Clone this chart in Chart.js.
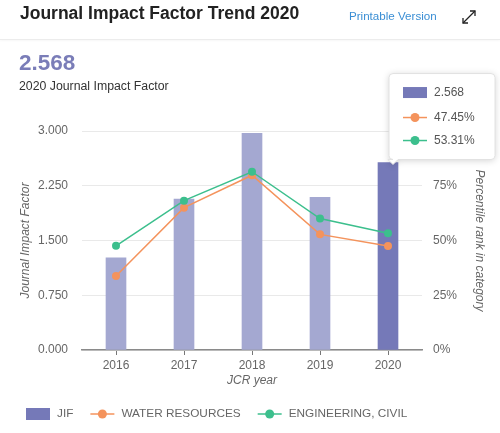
<!DOCTYPE html>
<html>
<head>
<meta charset="utf-8">
<script src="https://cdn.jsdelivr.net/npm/chart.js@4.4.1/dist/chart.umd.min.js"></script>
<style>
  html, body { margin: 0; padding: 0; background: #fff; }
  body { width: 500px; height: 433px; position: relative; overflow: hidden; font-family: "Liberation Sans", Arial, sans-serif; }
  #c { position: absolute; left: 0; top: 0; }
  .t { position: absolute; white-space: nowrap; line-height: 1; }
  #title { left: 20px; top: 4.8px; font-size: 17.5px; font-weight: bold; color: #222; }
  #print { left: 349px; top: 10.2px; font-size: 11.6px; color: #3a8ed4; }
  #icon { position: absolute; left: 461px; top: 9px; }
  #sep { position: absolute; left: 0; top: 39px; width: 500px; height: 1px; background: #ececec; box-shadow: 0 1px 2px rgba(0,0,0,0.05); }
  #big { left: 19px; top: 52px; font-size: 22.5px; font-weight: bold; color: #7a7db8; }
  #sub { left: 19px; top: 80px; font-size: 12.3px; color: #333; }
</style>
</head>
<body>
<canvas id="c" width="500" height="433"></canvas>
<div class="t" id="title">Journal Impact Factor Trend 2020</div>
<div class="t" id="print">Printable Version</div>
<svg id="icon" width="16" height="16" viewBox="0 0 16 16">
  <g stroke="#222" stroke-width="1.3" fill="none">
    <line x1="2" y1="14" x2="14" y2="2"/>
    <polyline points="9,2 14,2 14,7"/>
    <polyline points="2,9 2,14 7,14"/>
  </g>
</svg>
<div id="sep"></div>
<div class="t" id="big">2.568</div>
<div class="t" id="sub">2020 Journal Impact Factor</div>
<script>
const years = ['2016', '2017', '2018', '2019', '2020'];
const jifValues = [1.264, 2.068, 2.968, 2.09, 2.568];
const waterResources = [33.8, 65.0, 79.8, 52.8, 47.45];
const engineeringCivil = [47.6, 68.2, 81.4, 60.0, 53.31];
const leftTicks = [0, 0.75, 1.5, 2.25, 3.0];
const rightTicks = [0, 25, 50, 75, 100];
const seriesLabels = ['JIF', 'WATER RESOURCES', 'ENGINEERING, CIVIL'];

const BAR_LIGHT = '#a4a8d1';
const BAR_DARK = '#7579b8';
const ORANGE = '#f4935c';
const GREEN = '#3cbf8d';
const FONT = '"Liberation Sans", Arial, sans-serif';

const barColors = jifValues.map((v, i) => i === jifValues.length - 1 ? BAR_DARK : BAR_LIGHT);

function drawLineMarker(ctx, x, y, color) {
  ctx.save();
  ctx.strokeStyle = color;
  ctx.lineWidth = 1.5;
  ctx.beginPath();
  ctx.moveTo(x, y);
  ctx.lineTo(x + 24, y);
  ctx.stroke();
  ctx.fillStyle = color;
  ctx.beginPath();
  ctx.arc(x + 12, y, 4.5, 0, Math.PI * 2);
  ctx.fill();
  ctx.restore();
}

const overlayPlugin = {
  id: 'overlay',
  afterDraw(chart) {
    const ctx = chart.ctx;
    // ---- Legend ----
    ctx.save();
    ctx.font = '11.8px ' + FONT;
    ctx.textBaseline = 'middle';
    ctx.fillStyle = '#666';
    let x = 26;
    const ly = 414;
    seriesLabels.forEach((lab, i) => {
      if (i === 0) {
        ctx.fillStyle = BAR_DARK;
        ctx.fillRect(x, ly - 6, 24, 12);
      } else {
        drawLineMarker(ctx, x, ly, i === 1 ? ORANGE : GREEN);
      }
      ctx.fillStyle = '#666';
      ctx.fillText(lab, x + 31, ly);
      x += 31 + ctx.measureText(lab).width + 17;
    });
    ctx.restore();

    // ---- Tooltip for last category ----
    const idx = years.length - 1;
    const bar = chart.getDatasetMeta(0).data[idx];
    const tipX = bar.x + 5, tipY = bar.y + 2;
    const left = bar.x + 1, bottom = tipY - 5;
    const w = 106, h = 86;
    const top = bottom - h;
    ctx.save();
    ctx.shadowColor = 'rgba(0,0,0,0.18)';
    ctx.shadowBlur = 7;
    ctx.shadowOffsetY = 1;
    ctx.fillStyle = '#fff';
    ctx.beginPath();
    const r = 4;
    ctx.moveTo(left + r, top);
    ctx.lineTo(left + w - r, top);
    ctx.quadraticCurveTo(left + w, top, left + w, top + r);
    ctx.lineTo(left + w, bottom - r);
    ctx.quadraticCurveTo(left + w, bottom, left + w - r, bottom);
    ctx.lineTo(tipX + 5, bottom);
    ctx.lineTo(tipX, tipY);
    ctx.lineTo(tipX - 5, bottom);
    ctx.lineTo(left + r, bottom);
    ctx.quadraticCurveTo(left, bottom, left, bottom - r);
    ctx.lineTo(left, top + r);
    ctx.quadraticCurveTo(left, top, left + r, top);
    ctx.closePath();
    ctx.fill();
    ctx.shadowColor = 'transparent';
    ctx.strokeStyle = '#e2e2e2';
    ctx.lineWidth = 1;
    ctx.stroke();
    ctx.restore();

    ctx.save();
    ctx.font = '12px ' + FONT;
    ctx.textBaseline = 'middle';
    const rows = [
      { y: top + 19, text: jifValues[idx].toFixed(3), kind: 'bar' },
      { y: top + 44, text: waterResources[idx].toFixed(2) + '%', kind: ORANGE },
      { y: top + 67, text: engineeringCivil[idx].toFixed(2) + '%', kind: GREEN }
    ];
    rows.forEach(row => {
      if (row.kind === 'bar') {
        ctx.fillStyle = BAR_DARK;
        ctx.fillRect(left + 14, row.y - 5.5, 24, 11);
      } else {
        drawLineMarker(ctx, left + 14, row.y, row.kind);
      }
      ctx.fillStyle = '#555';
      ctx.fillText(row.text, left + 45, row.y);
    });
    ctx.restore();
  }
};

new Chart(document.getElementById('c'), {
  data: {
    labels: years,
    datasets: [
      {
        type: 'bar',
        label: seriesLabels[0],
        data: jifValues,
        backgroundColor: barColors,
        yAxisID: 'y',
        barThickness: 20,
        order: 3
      },
      {
        type: 'line',
        label: seriesLabels[1],
        data: waterResources,
        borderColor: ORANGE,
        backgroundColor: ORANGE,
        borderWidth: 1.5,
        pointRadius: 4,
        pointBorderWidth: 0,
        pointBackgroundColor: ORANGE,
        tension: 0,
        yAxisID: 'y1',
        order: 2
      },
      {
        type: 'line',
        label: seriesLabels[2],
        data: engineeringCivil,
        borderColor: GREEN,
        backgroundColor: GREEN,
        borderWidth: 1.5,
        pointRadius: 4,
        pointBorderWidth: 0,
        pointBackgroundColor: GREEN,
        tension: 0,
        yAxisID: 'y1',
        order: 1
      }
    ]
  },
  options: {
    responsive: false,
    animation: false,
    devicePixelRatio: 1,
    layout: { padding: { left: 18, right: 13, top: 131, bottom: 45 } },
    plugins: {
      legend: { display: false },
      tooltip: { enabled: false },
      title: { display: false }
    },
    scales: {
      x: {
        offset: true,
        grid: { display: true, drawOnChartArea: false, drawTicks: true, tickLength: 5, tickColor: '#777', offset: false },
        border: { display: true, color: '#8a8a8a', width: 1.5 },
        ticks: { color: '#666', font: { family: FONT, size: 12 }, padding: 3 },
        title: { display: true, text: 'JCR year', color: '#666', font: { family: FONT, size: 12, style: 'italic' }, padding: 0 },
        afterFit(scale) { scale.height = 38; }
      },
      y: {
        position: 'left',
        min: 0,
        max: 3,
        afterBuildTicks(scale) { scale.ticks = leftTicks.map(v => ({ value: v })); },
        grid: { color: '#e9e9e9', lineWidth: 1, drawTicks: false },
        border: { display: false },
        ticks: { color: '#666', font: { family: FONT, size: 12 }, padding: 14, callback: v => Number(v).toFixed(3) },
        title: { display: true, text: 'Journal Impact Factor', color: '#666', font: { family: FONT, size: 12, style: 'italic' }, padding: 0 },
        afterFit(scale) { scale.width = 64; }
      },
      y1: {
        position: 'right',
        min: 0,
        max: 100,
        afterBuildTicks(scale) { scale.ticks = rightTicks.map(v => ({ value: v })); },
        grid: { drawOnChartArea: false, drawTicks: false },
        border: { display: false },
        ticks: { color: '#666', font: { family: FONT, size: 12 }, padding: 11, callback: v => v + '%' },
        title: { display: true, text: 'Percentile rank in category', color: '#666', font: { family: FONT, size: 12, style: 'italic' }, padding: 0 },
        afterFit(scale) { scale.width = 65; }
      }
    }
  },
  plugins: [overlayPlugin]
});
</script>
</body>
</html>
